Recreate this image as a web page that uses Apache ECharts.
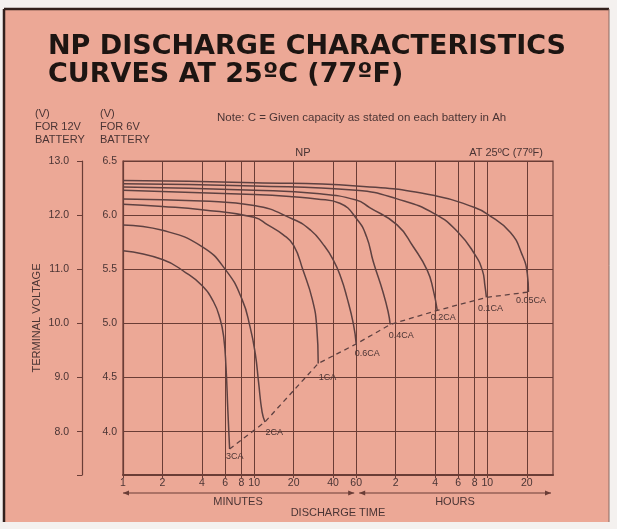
<!DOCTYPE html>
<html>
<head>
<meta charset="utf-8">
<script src="https://cdn.jsdelivr.net/npm/echarts@6/dist/echarts.min.js"></script>
<style>
html, body { margin: 0; padding: 0; background: #f4f1ef; }
#chart { width: 617px; height: 529px; }
</style>
</head>
<body>
<div id="chart"></div>
<script>
// discharge rates, one curve each: [minutes, volts per 6V battery]
var rateNames = ['3CA', '2CA', '1CA', '0.6CA', '0.4CA', '0.2CA', '0.1CA', '0.05CA'];
var curve3CA = [[1, 5.67], [2, 5.59], [3, 5.47], [4, 5.35], [4.9, 5.2], [5.5, 5.04], [5.85, 4.88], [6.1, 4.6], [6.3, 4.2], [6.5, 3.84]];
var curve2CA = [[1, 5.91], [2, 5.86], [4, 5.71], [6.1, 5.49], [8.1, 5.22], [9.3, 4.97], [10.2, 4.72], [10.8, 4.46], [11.5, 4.18], [12.1, 4.09]];
var curve1CA = [[1, 6.1], [2, 6.08], [4, 6.05], [10, 5.98], [12.7, 5.91], [16.6, 5.82], [20, 5.72], [23.6, 5.49], [27.8, 5.22], [30, 4.97], [30.8, 4.63]];
var curve06CA = [[1, 6.15], [4, 6.13], [10, 6.09], [20, 5.96], [27, 5.86], [33.6, 5.73], [40, 5.59], [46, 5.42], [51, 5.24], [57, 5.0], [60, 4.81]];
var curve04CA = [[1, 6.23], [10, 6.19], [20, 6.17], [30, 6.15], [45, 6.11], [61, 5.96], [72, 5.8], [81, 5.57], [96, 5.29], [105, 5.11], [109, 4.99]];
var curve02CA = [[1, 6.26], [10, 6.23], [30, 6.2], [60, 6.14], [76, 6.07], [123, 5.91], [163, 5.71], [209, 5.49], [232, 5.31], [249, 5.12]];
var curve01CA = [[1, 6.29], [10, 6.27], [60, 6.23], [123, 6.15], [240, 6.01], [360, 5.84], [480, 5.64], [550, 5.49], [575, 5.35], [590, 5.24]];
var curve005CA = [[1, 6.32], [10, 6.3], [60, 6.27], [240, 6.18], [480, 6.07], [600, 6.01], [900, 5.84], [1100, 5.64], [1210, 5.46], [1235, 5.29]];
var curves = [curve3CA, curve2CA, curve1CA, curve06CA, curve04CA, curve02CA, curve01CA, curve005CA];

var xTickValues = [1, 2, 4, 6, 8, 10, 20, 40, 60, 120, 240, 360, 480, 600, 1200];
var xTickLabels = ['1', '2', '4', '6', '8', '10', '20', '40', '60', '2', '4', '6', '8', '10', '20'];
var y6Ticks = [4.0, 4.5, 5.0, 5.5, 6.0, 6.5];
var y12Ticks = [8.0, 9.0, 10.0, 11.0, 12.0, 13.0];

// where each rate label sits relative to the curve end (px)
var labelOffsets = [[-3, 4], [1, 7], [1, 10], [-1, 6], [-1, 7], [-6, 3], [-8, 7], [-12, 5]];

var lineCol = '#6a3d36';
var curveCol = '#5e4141';
var textCol = '#4a3434';
var font = 'Liberation Sans';

var chart = echarts.init(document.getElementById('chart'));

var series = curves.map(function (c, i) {
  return {
    name: rateNames[i],
    type: 'line',
    data: c,
    symbol: 'none',
    smooth: 0.5,
    lineStyle: { color: curveCol, width: 1.5 },
    z: 3
  };
});

var ends = curves.map(function (c, i) {
  var p = c[c.length - 1];
  return {
    value: p,
    label: { position: labelOffsets[i], formatter: rateNames[i] }
  };
});

series.push({
  name: 'end',
  type: 'line',
  data: ends,
  symbol: 'circle',
  symbolSize: 1,
  itemStyle: { color: 'rgba(0,0,0,0)' },
  lineStyle: { color: curveCol, width: 1.3, type: [5, 4] },
  label: { show: true, fontSize: 9, fontFamily: font, color: textCol },
  z: 4
});

function findTick(v) {
  for (var i = 0; i < xTickValues.length; i++) {
    if (Math.abs(xTickValues[i] - v) / xTickValues[i] < 1e-6) return xTickLabels[i];
  }
  return '';
}

chart.setOption({
  backgroundColor: '#f4f1ef',
  animation: false,
  title: {
    text: 'NP DISCHARGE CHARACTERISTICS\nCURVES AT 25ºC (77ºF)',
    left: 43,
    top: 28,
    textStyle: { fontFamily: 'DejaVu Sans', fontWeight: 900, fontSize: 27, lineHeight: 28, color: '#1d1512' }
  },
  grid: { left: 123, right: 64, top: 161, bottom: 54, show: true, borderColor: lineCol, borderWidth: 1.2 },
  xAxis: {
    type: 'log',
    logBase: 10,
    min: 1,
    max: 1900,
    name: 'DISCHARGE TIME',
    nameLocation: 'middle',
    nameGap: 32,
    nameTextStyle: { fontFamily: font, fontSize: 11, color: textCol },
    axisLine: { show: true, lineStyle: { color: lineCol, width: 2 } },
    axisTick: { show: true, length: 3, customValues: xTickValues, lineStyle: { color: lineCol } },
    axisLabel: {
      customValues: xTickValues,
      formatter: function (v) { return findTick(v); },
      margin: 3, fontSize: 10.5, fontFamily: font, color: textCol
    },
    splitLine: { show: true, lineStyle: { color: lineCol, width: 1 } },
    minorTick: { show: false },
    minorSplitLine: { show: false }
  },
  yAxis: [{
    type: 'value',
    min: 3.6,
    max: 6.5,
    axisLine: { show: true, lineStyle: { color: lineCol, width: 1.2 } },
    axisTick: { show: false, customValues: y6Ticks },
    axisLabel: {
      customValues: y6Ticks,
      formatter: function (v) { return v.toFixed(1); },
      margin: 6, fontSize: 10.5, fontFamily: font, color: textCol
    },
    splitLine: { show: true, lineStyle: { color: lineCol, width: 1 } }
  }, {
    type: 'value',
    min: 7.2,
    max: 13,
    position: 'left',
    offset: 41,
    name: 'TERMINAL VOLTAGE',
    nameLocation: 'middle',
    nameRotate: 90,
    nameGap: 40,
    nameMoveOverlap: false,
    nameTextStyle: { fontFamily: font, fontSize: 11, color: textCol },
    axisLine: { show: true, lineStyle: { color: lineCol, width: 1.2 } },
    axisTick: { show: true, length: 5, customValues: [7.2].concat(y12Ticks), lineStyle: { color: lineCol } },
    axisLabel: {
      customValues: y12Ticks,
      formatter: function (v) { return v.toFixed(1); },
      margin: 13, fontSize: 10.5, fontFamily: font, color: textCol
    },
    splitLine: { show: false }
  }],
  series: series
});

// frame, headers and the minutes / hours arrows
var x1 = chart.convertToPixel({ xAxisIndex: 0 }, 1);
var x60 = chart.convertToPixel({ xAxisIndex: 0 }, 60);
var xEnd = chart.convertToPixel({ xAxisIndex: 0 }, 1900);
var ay = 493;

function arrow(xa, xb) {
  return [
    { type: 'line', shape: { x1: xa, y1: ay, x2: xb, y2: ay }, style: { stroke: lineCol, lineWidth: 1.2 } },
    { type: 'polygon', shape: { points: [[xa, ay], [xa + 6, ay - 2.5], [xa + 6, ay + 2.5]] }, style: { fill: lineCol } },
    { type: 'polygon', shape: { points: [[xb, ay], [xb - 6, ay - 2.5], [xb - 6, ay + 2.5]] }, style: { fill: lineCol } }
  ];
}

var smallText = { fontFamily: font, fontSize: 11, fill: textCol };
function txt(x, y, s, extra) {
  return { type: 'text', x: x, y: y, style: Object.assign({ text: s }, smallText, extra || {}) };
}

chart.setOption({
  graphic: [
    { type: 'rect', z: -10, shape: { x: 4, y: 9, width: 605, height: 513 }, style: { fill: '#eca896' } },
    { type: 'line', shape: { x1: 4, y1: 9, x2: 609, y2: 9 }, style: { stroke: '#33211d', lineWidth: 2.5 } },
    { type: 'line', shape: { x1: 4, y1: 9, x2: 4, y2: 522 }, style: { stroke: '#33211d', lineWidth: 2.5 } },
    { type: 'line', shape: { x1: 609, y1: 9, x2: 609, y2: 522 }, style: { stroke: '#8a6a62', lineWidth: 1 } },
    txt(35, 107, '(V)\nFOR 12V\nBATTERY', { lineHeight: 13 }),
    txt(100, 107, '(V)\nFOR 6V\nBATTERY', { lineHeight: 13 }),
    txt(217, 112, 'Note: C = Given capacity as stated on each battery in Ah', { fontSize: 11.5 }),
    txt(303, 153, 'NP', { align: 'center', verticalAlign: 'middle' }),
    txt(543, 153, 'AT 25ºC (77ºF)', { align: 'right', verticalAlign: 'middle' }),
    txt(238, 502, 'MINUTES', { align: 'center', verticalAlign: 'middle' }),
    txt(455, 502, 'HOURS', { align: 'center', verticalAlign: 'middle' })
  ].concat(arrow(x1, x60 - 2)).concat(arrow(x60 + 3, xEnd - 2))
});
</script>
</body>
</html>
